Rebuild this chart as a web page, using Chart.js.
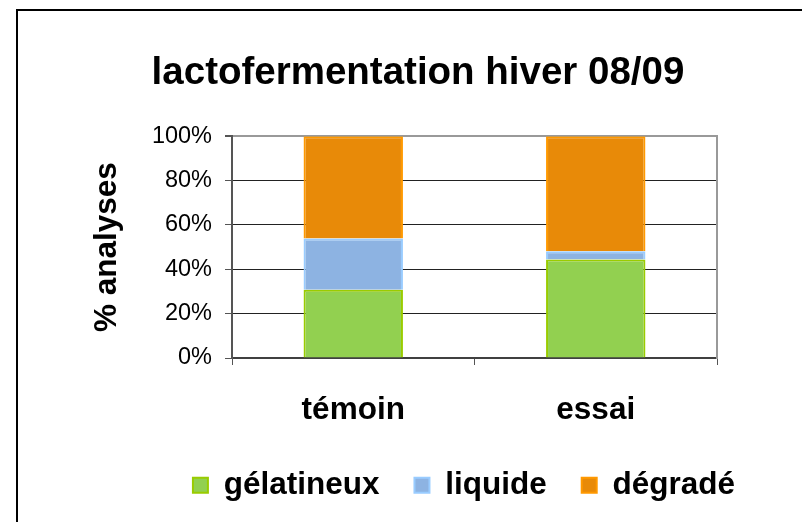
<!DOCTYPE html>
<html>
<head>
<meta charset="utf-8">
<script src="https://cdn.jsdelivr.net/npm/chart.js@4"></script>
<style>
  html, body { margin: 0; padding: 0; background: #fff; }
  #wrap { width: 802px; height: 522px; }
</style>
</head>
<body>
<div id="wrap"><canvas id="graficoCanvas" width="802" height="522"></canvas></div>
<script>
// Données (en %)
const categories = ['témoin', 'essai'];
const gelatineux = [30.8, 44.4];
const liquide = [23.1, 3.7];
const degrade = [46.1, 51.9];
const yTicks = [0, 20, 40, 60, 80, 100];

const police = '"Liberation Sans", Arial, sans-serif';

// Cadre noir autour du graphique
const cadre = {
    id: 'cadre',
    afterDraw(chart) {
        const ctx = chart.ctx;
        ctx.save();
        ctx.strokeStyle = '#000';
        ctx.lineWidth = 2;
        ctx.strokeRect(17, 10, 820, 540);
        ctx.restore();
    }
};

new Chart(document.getElementById('graficoCanvas'), {
    type: 'bar',
    data: {
        labels: categories,
        datasets: [
            { label: 'gélatineux', data: gelatineux, backgroundColor: '#92D050', borderColor: '#99CC00', borderWidth: 2 },
            { label: 'liquide', data: liquide, backgroundColor: '#8DB3E2', borderColor: '#99CCFF', borderWidth: 2 },
            { label: 'dégradé', data: degrade, backgroundColor: '#E88A08', borderColor: '#FF9900', borderWidth: 2 }
        ]
    },
    options: {
        responsive: false,
        animation: false,
        layout: { padding: { top: 0, left: 66, right: 32, bottom: 11 } },
        datasets: { bar: { categoryPercentage: 1, barPercentage: 0.41 } },
        scales: {
            x: {
                stacked: true,
                afterFit(s) { s.height = 76.5; },
                grid: { display: true, drawOnChartArea: false, offset: true, tickLength: 7, color: '#555', lineWidth: 1 },
                border: { color: '#404040', width: 2 },
                ticks: { color: '#000', padding: 26, font: { family: police, size: 31.5, weight: 'bold' } }
            },
            y: {
                stacked: true,
                min: 0,
                max: 100,
                afterFit(s) { s.width = 166; },
                afterBuildTicks(s) { s.ticks = yTicks.map(v => ({ value: v })); },
                grid: {
                    tickLength: 7,
                    color: c => c.tick && c.tick.value === 100 ? '#999' : '#222',
                    lineWidth: c => c.tick && c.tick.value === 100 ? 2 : 1,
                    tickColor: '#555'
                },
                border: { color: '#555', width: 2 },
                ticks: { color: '#000', padding: 13, font: { family: police, size: 23.5 }, callback: v => v + '%' },
                title: {
                    display: true,
                    text: '% analyses',
                    color: '#000',
                    padding: { top: 22, bottom: 0 },
                    font: { family: police, size: 31.5, weight: 'bold' }
                }
            },
            y2: {
                type: 'linear',
                position: 'right',
                afterFit(s) { s.width = 53; },
                grid: { display: false, drawTicks: false },
                border: { display: true, color: '#999', width: 2 },
                ticks: { display: false }
            }
        },
        plugins: {
            title: {
                display: true,
                text: 'lactofermentation hiver 08/09',
                color: '#000',
                padding: { top: 50, bottom: 40 },
                font: { family: police, size: 38.5, weight: 'bold' }
            },
            legend: {
                position: 'bottom',
                align: 'end',
                labels: {
                    color: '#000',
                    boxWidth: 15,
                    boxHeight: 15,
                    padding: 35,
                    font: { family: police, size: 31.5, weight: 'bold' }
                }
            },
            tooltip: { enabled: false }
        }
    },
    plugins: [cadre]
});
</script>
</body>
</html>
